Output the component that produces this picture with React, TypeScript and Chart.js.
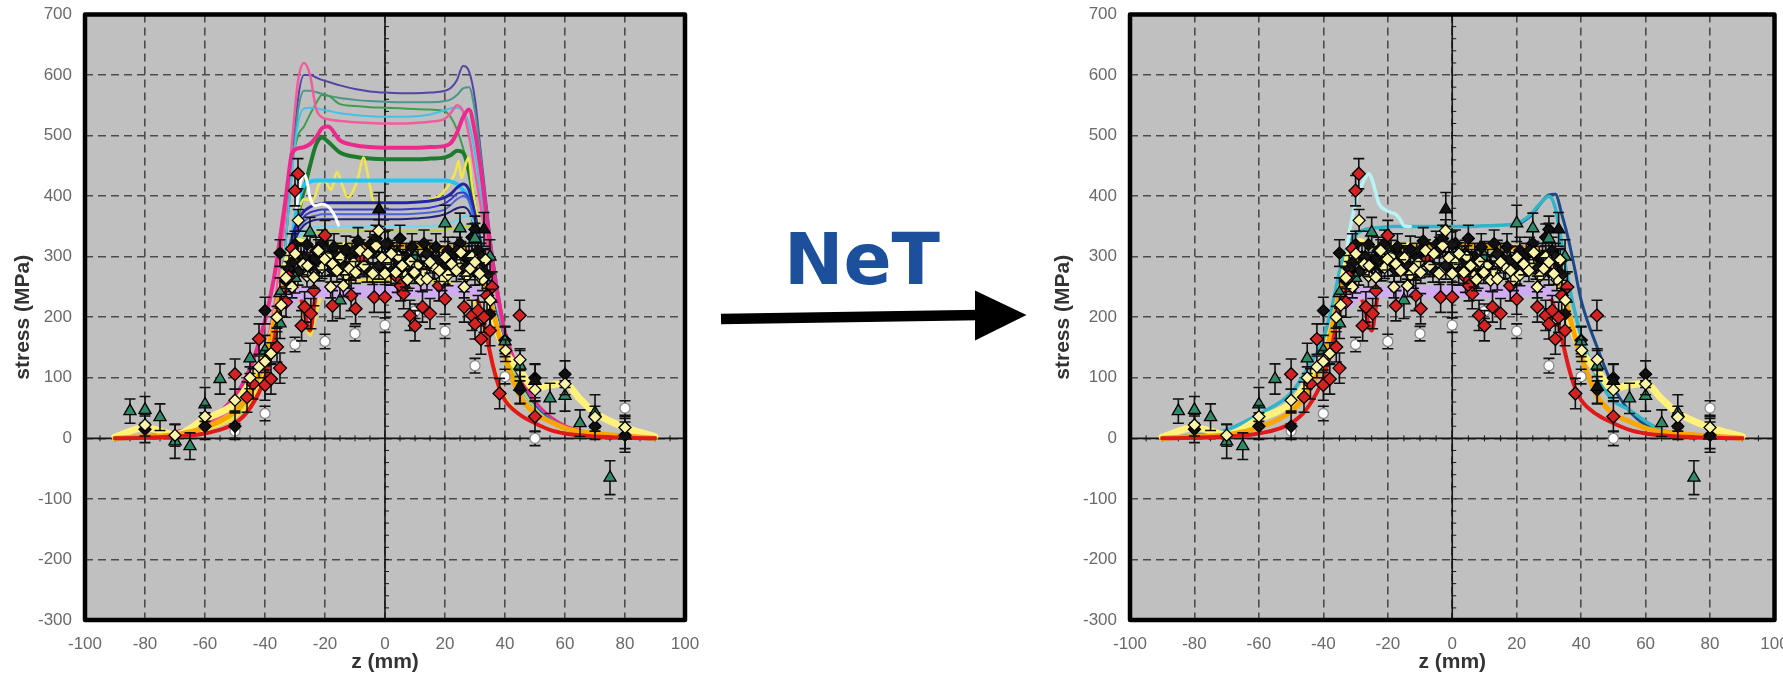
import React, { useEffect, useRef } from 'react';
import { Chart, registerables } from 'chart.js';
Chart.register(...registerables);

// ---------- axis ----------
const X_MIN = -100, X_MAX = 100, X_STEP = 20;
const Y_MIN = -300, Y_MAX = 700, Y_STEP = 100;
const X_TITLE = 'z (mm)';
const Y_TITLE = 'stress (MPa)';

// ---------- common z grid for model curves ----------
const G = [-90,-80,-70,-60,-50,-45,-40,-37,-35,-33,-31,-29,-27,-25,-23,-21,-19,-15,-10,-5,0,5,10,15,20,22,24,26,28,30,32,34,36,38,40,45,50,55,60,65,70,80,90];

// left chart (many models)
const L_INDIGO = [0,2,6,16,40,70,125,180,240,330,450,560,600,600,596,592,589,583,577,573,571,570,570,571,574,579,592,615,606,560,470,380,300,235,180,105,58,33,18,10,6,2,0];
const L_TEALGREY = [0,2,6,16,40,70,125,180,240,330,440,540,574,574,572,569,566,562,559,557,556,555,555,555,557,560,567,578,580,540,460,370,295,232,178,104,57,32,18,10,6,2,0];
const L_GREEN = [0,2,6,16,38,68,120,170,230,330,450,500,515,535,553,567,566,552,549,547,546,545,544,543,540,530,510,480,440,390,330,275,230,195,160,100,56,32,18,10,6,2,0];
const L_CYAN = [0,2,6,16,40,70,125,180,240,330,440,520,545,546,545,543,541,537,534,532,531,531,532,535,542,545,546,540,520,470,400,330,270,215,168,100,56,32,18,10,6,2,0];
const L_PINK = [0,3,9,22,55,90,150,215,290,380,490,590,620,600,545,530,527,524,522,521,520,520,521,523,528,538,550,540,500,440,380,320,265,215,170,102,57,33,18,10,6,2,0];
const L_MAGENTA = [0,3,10,25,70,115,195,265,330,400,470,479,481,486,497,512,515,492,484,481,480,480,480,481,483,488,505,530,543,505,440,360,285,225,175,105,60,35,20,12,7,2,0];
const L_DKGREEN = [0,2,6,15,38,65,115,165,220,280,330,370,410,450,485,497,490,472,465,462,461,461,461,462,464,468,475,472,440,380,320,265,220,180,150,92,52,30,17,10,6,2,0];
const L_CYANTHICK = [0,2,6,15,38,65,115,165,220,280,330,390,418,424,426,426,426,426,426,426,426,426,426,426,426,424,420,410,395,360,320,270,225,185,150,90,52,30,17,10,6,2,0];
const L_DKBLUE = [0,2,6,15,38,65,115,165,220,280,330,360,375,382,386,388,389,389,389,389,389,389,390,392,398,404,414,420,410,370,320,270,225,185,150,92,52,30,17,10,6,2,0];
const L_BLUE = [0,2,6,15,38,65,115,165,220,275,320,350,366,373,376,378,378,378,378,378,378,378,379,381,388,395,404,406,395,360,310,262,220,182,148,90,52,30,17,10,6,2,0];
const L_ROYAL = [0,2,6,15,38,65,115,165,220,272,315,345,358,365,368,370,370,370,370,370,370,370,371,373,378,386,395,400,392,355,305,258,218,180,146,90,51,30,17,10,6,2,0];
const L_NAVY = [0,2,6,15,38,65,115,165,218,268,310,338,352,358,361,362,362,362,362,362,362,362,363,365,370,375,380,382,375,345,300,255,215,178,145,88,50,29,17,10,6,2,0];
const L_LTCYAN = [0,2,6,15,38,65,115,165,215,265,305,330,342,347,349,350,350,350,350,350,350,350,350,351,353,356,360,365,368,350,305,258,218,180,146,88,50,29,17,10,6,2,0];
const L_LIME = [0,2,6,15,38,65,115,165,215,262,300,322,334,339,341,342,342,342,342,342,342,342,342,343,344,346,348,350,350,335,295,252,214,178,144,88,50,29,17,10,6,2,0];
const L_YELLOW2 = [0,2,5,14,35,60,110,165,220,255,262,245,200,170,205,240,252,258,260,262,263,263,262,260,258,256,252,246,238,222,195,160,125,92,68,40,25,15,9,5,3,1,0];

// wavy curves with their own z
const YW_Z = [-30,-27,-24,-22,-20,-18,-16,-14,-12.5,-11,-9,-7.2,-5.5,-4,-2,2,8,14,18,20,22,23.5,24.5,25.5,26.5,27.8,29,31,33];
const YW_S = [360,395,393,420,425,410,440,415,398,405,430,464,430,393,388,389,390,393,400,410,425,440,458,430,445,464,420,360,300];
const WW_Z = [-29.5,-28.3,-27,-26,-25,-23.3,-21,-19,-17.8,-16.5,-15.5];
const WW_S = [380,420,437,425,398,384,387,383,376,365,352];

// shared lower curves (both charts)
const YELLOW = [2,18,6,32,58,92,135,185,235,285,315,325,322,318,315,315,316,318,318,320,320,318,316,315,314,313,312,310,305,295,275,245,205,170,145,112,82,88,90,65,42,18,3];
const ORANGE = [0,3,6,18,45,75,130,190,240,270,285,295,300,305,308,310,312,314,316,318,318,318,317,316,315,315,314,312,305,295,280,250,210,170,135,70,41,28,17,11,8,4,0];
const RED = [0,1,3,8,25,50,100,160,215,245,250,246,210,178,238,246,248,248,248,248,248,248,248,248,248,248,248,247,244,238,210,165,120,85,63,39,25,14,8,5,3,1,0];
const LAVENDER = [null,null,null,null,null,null,null,null,null,222,232,238,240,241,242,242,242,242,242,242,242,242,242,242,243,244,245,246,246,240,null,null,null,null,null,null,null,null,null,null,null,null,null];

// right chart (NeT) models
const R_TEAL = [0,5,14,40,75,115,165,225,275,310,330,340,345,347,348,349,350,350,350,350,350,350,351,352,355,360,368,380,392,400,380,320,260,210,170,100,62,47,28,14,8,3,0];
const R_DKBLUE = [null,null,null,null,null,null,null,null,null,null,null,null,null,null,null,null,null,null,null,null,null,null,null,null,352,358,366,378,392,402,403,370,330,280,228,150,85,45,22,12,6,2,0];
const PC_Z = [-35,-33.5,-32,-31,-29.5,-28.4,-26.8,-25.8,-24.8,-23.7,-22.7,-21,-19.1,-17.5,-16,-15,-13];
const PC_S = [250,277,338,365,400,415,432,437,426,405,387,378,373,370,360,351,350];

// ---------- measurements ----------
const GT_Z = [-85,-80,-75,-70,-65,-60,-55,-45,-40,-35,-35,-30,-25,-20,-15,-10,0,10,20,25,30,35,40,45,55,60,65,70,75];
const GT_S = [45,47,35,-5,-13,56,98,132,145,190,240,265,340,310,228,290,300,300,355,347,330,300,160,120,66,70,25,42,-65];
const GT_E = [20,22,22,28,22,28,25,25,25,25,25,25,25,25,30,25,25,25,30,25,25,28,25,25,25,25,22,30,28];

const WH_Z = [-50,-40,-30,-20,-10,0,10,20,30,40,50,80];
const WH_S = [12,41,155,160,173,187,210,177,120,102,0,50];
const WH_E = 12;

const RD_Z = [-50,-46,-44,-42,-40,-38,-36,-35,-33,-32,-31,-30,-29,-27.8,-26.8,-24.7,-23.7,-20,-17.5,-11.3,-9.8,-7.7,-3.6,0,4.1,5.2,6.2,8.3,10,12.5,15,18,20,26.4,29,30,31,32,33,34,35,35.7,38.2,44.9,50];
const RD_S = [106,68,90,164,88,98,151,116,225,267,313,409,437,186,217,206,244,335,219,236,214,296,233,233,266,252,239,203,186,217,206,252,230,217,203,189,211,164,200,236,178,250,74,203,36];
const RD_E = 25;

const YL_Z = [-80,-70,-60,-50,-45,-42,-40,-38,-36,-34.6,-33,-29.9,-28.9,-27.3,-25.8,-23.7,-22.2,-20.1,-18.1,-17.5,-16,-13.9,-11.9,-9.8,-8.3,-5.7,-4.1,-2.1,0,2.1,3.6,5.7,7.5,9.8,11.9,14,15,18.1,20.1,22.2,23.8,25.3,26.4,28.4,30,31.5,35.1,40.2,45,50,60,70,80];
const YL_S = [22,5,36,63,100,118,127,140,200,220,265,305,360,288,285,266,310,296,250,288,277,252,280,274,310,305,272,343,272,305,274,285,262,274,261,263,291,277,299,288,277,307,250,280,291,272,228,145,130,80,90,35,18];
const YL_E = 18;
const YL2_Z = [-31,-26,-21,-19,-14.8,-13,-10.5,-7,-3,-1,1,4.5,6.8,8.6,10.8,13,16.5,19,21,24.5,27.2,29,32.5,33.5];
const YL2_S = [250,268,282,300,298,270,290,285,318,298,290,300,268,292,285,275,282,262,270,290,268,300,262,295];

const BK_Z = [-80,-60,-50,-40,-35,-33,-31,-30,-28,-26,-24,-22,-21,-19,-17,-15,-13,-11,-9,-7,-5,-3,-1,1,3,5,7,9,11,13,15,17,19,21,23,25,27,29,30,31,33,35,40,45,50,60,70,80];
const BK_S = [15,20,20,211,306,260,290,320,300,320,295,282,322,305,316,296,312,300,326,290,320,330,300,322,295,330,300,316,290,322,300,316,285,310,300,322,295,332,345,310,290,205,162,80,100,106,20,5];
const BK_E = 22;
const BK2_Z = [-32,-29,-27,-25,-23,-20,-18,-16,-14,-12,-10,-8,-6,-4,-2,0,2,4,6,8,10,12,14,16,18,20,22,24,26,28,30,32,34];
const BK2_S = [280,275,300,285,310,290,280,300,285,270,310,300,280,310,285,320,275,305,290,270,300,280,305,285,295,275,290,310,285,300,275,300,270];

const BT_Z = [-2,33,45,50,80];
const BT_S = [378,345,85,95,5];
const BT_E = 28;

const FONT = "'Liberation Sans', Arial, Helvetica, sans-serif";

function pts(xs: number[], ys: (number | null)[]) {
  const out: { x: number; y: number }[] = [];
  xs.forEach((x, i) => { const y = ys[i]; if (y !== null && y !== undefined) out.push({ x, y }); });
  return out;
}

function line(xs: number[], ys: (number | null)[], color: string, width: number, order: number) {
  return {
    data: pts(xs, ys), showLine: true, borderColor: color, backgroundColor: color, borderWidth: width,
    pointRadius: 0, pointHoverRadius: 0, cubicInterpolationMode: 'monotone', fill: false, order,
    borderCapStyle: 'round', borderJoinStyle: 'round',
  };
}

function marks(xs: number[], ys: number[], errors: number | number[], style: string, bg: string, border: string, r: number, order: number) {
  return {
    data: pts(xs, ys), showLine: false, pointStyle: style, pointRadius: r, pointHoverRadius: r,
    pointBackgroundColor: bg, pointBorderColor: border, pointBorderWidth: 1.3, errors, order,
  };
}

function scatterSets() {
  return [
    marks(WH_Z, WH_S, WH_E, 'circle', '#ffffff', '#8a8a8a', 5, 8),
    marks(BK_Z, BK_S, BK_E, 'rectRot', '#111111', '#000000', 6, 7),
    marks(BK2_Z, BK2_S, BK_E, 'rectRot', '#1a1a1a', '#000000', 6, 6),
    marks(GT_Z, GT_S, GT_E, 'triangle', '#2f8a68', '#000000', 7, 5),
    marks(RD_Z, RD_S, RD_E, 'rectRot', '#d42222', '#000000', 6.5, 4),
    marks(BT_Z, BT_S, BT_E, 'triangle', '#111111', '#000000', 7, 3),
    marks(YL2_Z, YL2_S, YL_E, 'rectRot', '#f8f3a6', '#000000', 6, 2),
    marks(YL_Z, YL_S, YL_E, 'rectRot', '#f8f3a6', '#000000', 6, 1),
  ];
}

function lowerSets() {
  return [
    line(G, YELLOW, '#fff27c', 7, 30),
    line(G, ORANGE, '#f8a600', 5, 29),
    line(G, RED, '#e01a1a', 4, 28),
    line(G, LAVENDER, '#cfadf0', 12, 27),
  ];
}

function leftSets() {
  return [
    ...scatterSets(),
    line(G, L_INDIGO, '#5544a8', 2, 60),
    line(G, L_TEALGREY, '#4a968a', 2, 59),
    line(G, L_GREEN, '#3d9e4e', 2, 58),
    line(G, L_CYAN, '#42c2e4', 2, 57),
    line(G, L_PINK, '#f25c9c', 2.5, 56),
    line(G, L_MAGENTA, '#ec2a8c', 4, 55),
    line(G, L_DKGREEN, '#1e7a2c', 4, 54),
    line(YW_Z, YW_S, '#f2e64c', 2.5, 53),
    line(G, L_CYANTHICK, '#22c6f2', 4, 52),
    line(G, L_DKBLUE, '#2424a8', 3, 51),
    line(G, L_BLUE, '#3838cc', 2, 50),
    line(G, L_ROYAL, '#4a64d8', 2, 49),
    line(G, L_NAVY, '#23237a', 2, 48),
    line(G, L_LTCYAN, '#6ad8ee', 2, 47),
    line(G, L_LIME, '#b8d838', 2, 46),
    line(WW_Z, WW_S, '#ffffff', 3, 45),
    line(G, L_YELLOW2, '#f4e040', 3, 31),
    ...lowerSets(),
  ];
}

function rightSets() {
  return [
    ...scatterSets(),
    line(G, R_DKBLUE, '#1a4a8c', 3, 52),
    line(G, R_TEAL, '#30b4c8', 3.5, 51),
    line(PC_Z, PC_S, '#b8f4f4', 3.5, 50),
    ...lowerSets(),
  ];
}

const frame = {
  id: 'frame',
  beforeDraw(chart: any) {
    const { ctx, chartArea: a } = chart;
    ctx.save();
    ctx.fillStyle = '#c0c0c0';
    ctx.fillRect(a.left, a.top, a.right - a.left, a.bottom - a.top);
    ctx.restore();
  },
  beforeDatasetsDraw(chart: any) {
    const { ctx, chartArea: a, scales } = chart;
    const x = scales.x, y = scales.y;
    const x0 = x.getPixelForValue(0), y0 = y.getPixelForValue(0);
    ctx.save();
    ctx.strokeStyle = '#151515';
    ctx.lineWidth = 1.6;
    ctx.beginPath();
    ctx.moveTo(a.left, y0); ctx.lineTo(a.right, y0);
    ctx.moveTo(x0, a.top); ctx.lineTo(x0, a.bottom);
    ctx.stroke();
    ctx.lineWidth = 1;
    ctx.beginPath();
    for (let v = X_MIN + 5; v < X_MAX; v += 5) {
      const px = x.getPixelForValue(v);
      ctx.moveTo(px, y0 - 3); ctx.lineTo(px, y0 + 3);
    }
    for (let v = Y_MIN + 20; v < Y_MAX; v += 20) {
      const py = y.getPixelForValue(v);
      ctx.moveTo(x0 - 1, py); ctx.lineTo(x0 + 4, py);
    }
    ctx.stroke();
    ctx.restore();
  },
  afterDraw(chart: any) {
    const { ctx, chartArea: a } = chart;
    ctx.save();
    ctx.strokeStyle = '#000';
    ctx.lineWidth = 4.5;
    ctx.lineJoin = 'round';
    ctx.strokeRect(a.left, a.top, a.right - a.left, a.bottom - a.top);
    ctx.restore();
  },
};

const errorBars = {
  id: 'errorBars',
  beforeDatasetDraw(chart: any, args: any) {
    const ds = chart.data.datasets[args.index];
    if (ds.errors === undefined) return;
    const { ctx, chartArea: a, scales } = chart;
    const x = scales.x, y = scales.y;
    ctx.save();
    ctx.beginPath();
    ctx.rect(a.left, a.top, a.right - a.left, a.bottom - a.top);
    ctx.clip();
    ctx.strokeStyle = '#111';
    ctx.lineWidth = 1.6;
    ctx.beginPath();
    ds.data.forEach((p: any, i: number) => {
      const e = Array.isArray(ds.errors) ? ds.errors[i] : ds.errors;
      const px = x.getPixelForValue(p.x);
      const t = y.getPixelForValue(p.y + e);
      const b = y.getPixelForValue(p.y - e);
      ctx.moveTo(px, t); ctx.lineTo(px, b);
      ctx.moveTo(px - 5.5, t); ctx.lineTo(px + 5.5, t);
      ctx.moveTo(px - 5.5, b); ctx.lineTo(px + 5.5, b);
    });
    ctx.stroke();
    ctx.restore();
  },
};

function makeConfig(datasets: any[], yWidth: number, padRight: number): any {
  return {
    type: 'scatter',
    data: { datasets },
    options: {
      animation: false,
      responsive: false,
      devicePixelRatio: 1,
      layout: { padding: { left: 0, right: padRight, top: 14.5, bottom: 0 } },
      plugins: { legend: { display: false }, tooltip: { enabled: false } },
      events: [],
      scales: {
        x: {
          type: 'linear', min: X_MIN, max: X_MAX,
          ticks: { stepSize: X_STEP, color: '#6a6a6a', font: { family: FONT, size: 17 }, padding: 14, maxRotation: 0, autoSkip: false },
          grid: { color: '#4c4c4c', lineWidth: 1.6, drawTicks: false },
          border: { display: false, dash: [8, 5] },
          title: { display: true, text: X_TITLE, color: '#333', font: { family: FONT, size: 21, weight: 'bold' }, padding: { top: 0, bottom: 0 } },
          afterFit: (s: any) => { s.height = 55; s.paddingLeft = 0; s.paddingRight = 0; },
        },
        y: {
          type: 'linear', min: Y_MIN, max: Y_MAX,
          ticks: { stepSize: Y_STEP, color: '#6a6a6a', font: { family: FONT, size: 17 }, padding: 13 },
          grid: { color: '#4c4c4c', lineWidth: 1.6, drawTicks: false },
          border: { display: false, dash: [8, 5] },
          title: { display: true, text: Y_TITLE, color: '#333', font: { family: FONT, size: 21, weight: 'bold' }, padding: { top: 11, bottom: 0 } },
          afterFit: (s: any) => { s.width = yWidth; s.paddingTop = 0; s.paddingBottom = 0; },
        },
      },
    },
    plugins: [frame, errorBars],
  };
}

function ChartCanvas({ left, width, datasets, yWidth, padRight }: { left: number; width: number; datasets: any[]; yWidth: number; padRight: number }) {
  const ref = useRef<HTMLCanvasElement | null>(null);
  useEffect(() => {
    if (!ref.current) return;
    const c = new Chart(ref.current, makeConfig(datasets, yWidth, padRight));
    return () => c.destroy();
  }, []);
  return (
    <canvas ref={ref} width={width} height={675}
      style={{ position: 'absolute', left, top: 0, width, height: 675, display: 'block' }} />
  );
}

export default function App() {
  return (
    <div style={{ position: 'fixed', left: 0, top: 0, width: 1783, height: 675, overflow: 'hidden', background: '#ffffff' }}>
      <ChartCanvas left={0} width={700} datasets={leftSets()} yWidth={85} padRight={15} />
      <ChartCanvas left={1040} width={760} datasets={rightSets()} yWidth={90} padRight={25.5} />
      <svg width={1783} height={675} style={{ position: 'absolute', left: 0, top: 0, pointerEvents: 'none' }}>
        <text x={784} y={284} fontFamily="'DejaVu Sans', Verdana, sans-serif" fontWeight="bold" fontSize={71} fill="#1c4f9c">NeT</text>
        <line x1={721} y1={319} x2={980} y2={315} stroke="#000" strokeWidth={10.5} />
        <polygon points="975,290.5 1026.5,315 975,340.5" fill="#000" />
      </svg>
    </div>
  );
}
